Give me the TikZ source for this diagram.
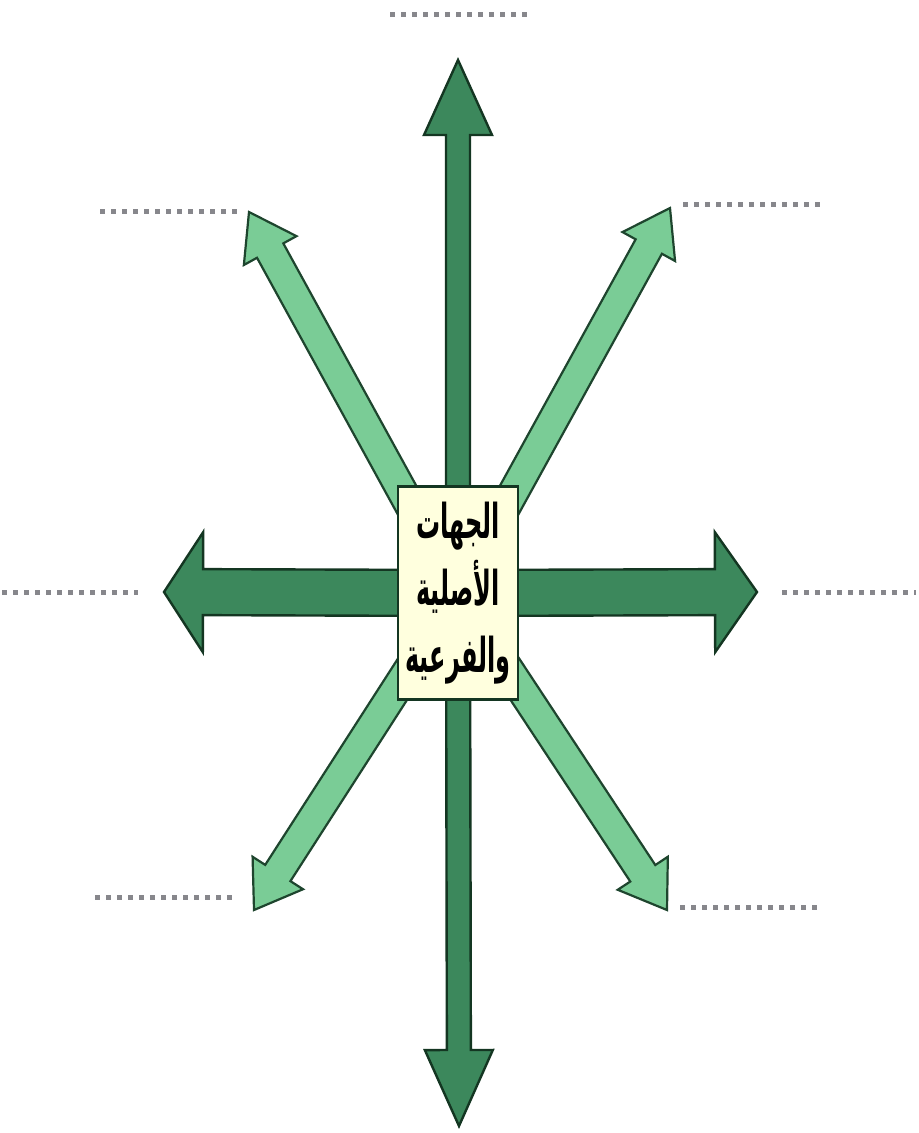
\documentclass[tikz,border=0pt]{standalone}
\usepackage{graphicx}
\usepackage{fontspec}
\usetikzlibrary{calc}
\TeXXeTstate=1
\newfontfamily\arabicfont[Script=Arabic]{DejaVu Sans}
\definecolor{maingreen}{RGB}{60,136,92}
\definecolor{lightgreen}{RGB}{122,204,150}
\definecolor{edgegreen}{RGB}{20,54,34}
\definecolor{boxfill}{RGB}{255,255,222}
\definecolor{dotgray}{RGB}{135,135,140}
\newcommand\fatarrow[6]{%
  \path ($(#3)!#6!(#2)$) coordinate (hb);
  \draw[#1] ($(#2)!#4!90:(#3)$) -- ($(hb)!#4!90:(#3)$) -- ($(hb)!#5!90:(#3)$) -- (#3)
    -- ($(hb)!#5!-90:(#3)$) -- ($(hb)!#4!-90:(#3)$) -- ($(#2)!#4!-90:(#3)$) -- cycle;
}
\newcommand\narrowline[1]{\scalebox{0.5}[1]{\beginR #1\endR}}
\tikzset{
  mainarrow/.style={fill=maingreen, draw=edgegreen, line width=1.2pt, line join=miter},
  diagarrow/.style={fill=lightgreen, draw=edgegreen!90!lightgreen, line width=1.1pt, line join=miter},
  centerbox/.style={draw=edgegreen, line width=1.3pt, fill=boxfill, minimum width=60pt, minimum height=106.5pt, inner sep=0pt},
  boxtext/.style={align=center, font=\arabicfont\bfseries\fontsize{24}{33.5}\selectfont, text=black},
  placeholder/.style={draw=dotgray, line width=2.5pt, dash pattern=on 2.5pt off 3pt}
}
\begin{document}
\begin{tikzpicture}[x=0.5pt,y=-0.5pt]
\useasboundingbox (0,0) rectangle (918,1133);
% centre
\coordinate (c) at (458,593);
% arrow tips
\coordinate (tN) at (458,60);
\coordinate (tS) at (459,1126);
\coordinate (tW) at (164,592);
\coordinate (tE) at (757,592);
\coordinate (tNW) at (249,212);
\coordinate (tNE) at (670,208);
\coordinate (tSW) at (254,910);
\coordinate (tSE) at (667,910);
% diagonal arrows
\fatarrow{diagarrow}{c}{tNW}{7.5pt}{15pt}{22pt}
\fatarrow{diagarrow}{c}{tNE}{7.5pt}{15pt}{22pt}
\fatarrow{diagarrow}{c}{tSW}{7.5pt}{15pt}{22pt}
\fatarrow{diagarrow}{c}{tSE}{7.5pt}{15pt}{22pt}
% main arrows
\fatarrow{mainarrow}{c}{tN}{6pt}{17pt}{37.5pt}
\fatarrow{mainarrow}{c}{tS}{6pt}{17pt}{38pt}
\fatarrow{mainarrow}{c}{tW}{11.5pt}{30pt}{19.5pt}
\fatarrow{mainarrow}{c}{tE}{11.5pt}{30pt}{21pt}
% centre box
\node[centerbox] (box) at (c) {};
\node[boxtext] (label) at (box.center) {\narrowline{الجهات}\\\narrowline{الأصلية}\\\narrowline{والفرعية}};
% dotted placeholder lines
\coordinate (pNa) at (390,15);  \coordinate (pNb) at (530,15);
\coordinate (pNWa) at (100,212); \coordinate (pNWb) at (237,212);
\coordinate (pNEa) at (683,205); \coordinate (pNEb) at (820,205);
\coordinate (pWa) at (2,592);   \coordinate (pWb) at (138,592);
\coordinate (pEa) at (782,592); \coordinate (pEb) at (916,592);
\coordinate (pSWa) at (95,897); \coordinate (pSWb) at (235,897);
\coordinate (pSEa) at (680,907); \coordinate (pSEb) at (818,907);
\draw[placeholder] (pNa) -- (pNb);
\draw[placeholder] (pNWa) -- (pNWb);
\draw[placeholder] (pNEa) -- (pNEb);
\draw[placeholder] (pWa) -- (pWb);
\draw[placeholder] (pEa) -- (pEb);
\draw[placeholder] (pSWa) -- (pSWb);
\draw[placeholder] (pSEa) -- (pSEb);
\end{tikzpicture}
\end{document}
